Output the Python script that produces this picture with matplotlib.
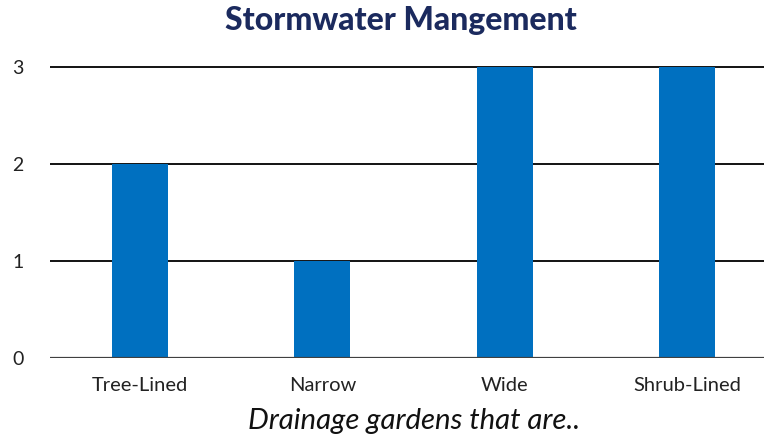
import matplotlib.pyplot as plt

categories = ["Tree-Lined", "Narrow", "Wide", "Shrub-Lined"]
counts = [2, 1, 3, 3]
y_ticks = [0, 1, 2, 3]

plt.rcParams['font.family'] = ['Lato', 'DejaVu Sans']

fig = plt.figure(figsize=(7.64, 4.4), dpi=100)
# axes placed to line up with the reference (left edge at the gridline start)
ax = fig.add_axes([50 / 764, 82 / 440, 714 / 764, 300.7 / 440])

x = range(len(categories))
ax.bar(x, counts, width=0.307, color="#0070C0", zorder=3)

ax.set_xlim(-0.494, 3.423)
ax.set_ylim(0, 3.1)
ax.set_yticks(y_ticks)
ax.set_xticks(list(x))
ax.set_xticklabels(categories)

for v in y_ticks[1:]:
    ax.axhline(v, color="black", linewidth=1.3, zorder=1)
ax.axhline(0, color="#404040", linewidth=1.6, zorder=4)

for s in ax.spines.values():
    s.set_visible(False)
ax.tick_params(axis="both", length=0, colors="#222222")
ax.tick_params(axis="x", labelsize=14.5, pad=14)
ax.tick_params(axis="y", labelsize=14, pad=19)

fig.text(0.525, 0.953, "Stormwater Mangement", ha="center", va="center",
         fontsize=23, fontweight="black", color="#1B2A5E")
fig.text(0.542, 0.043, "Drainage gardens that are..", ha="center", va="center",
         fontsize=21.2, style="italic", color="#111111")

fig.savefig("out.png", dpi=100)
